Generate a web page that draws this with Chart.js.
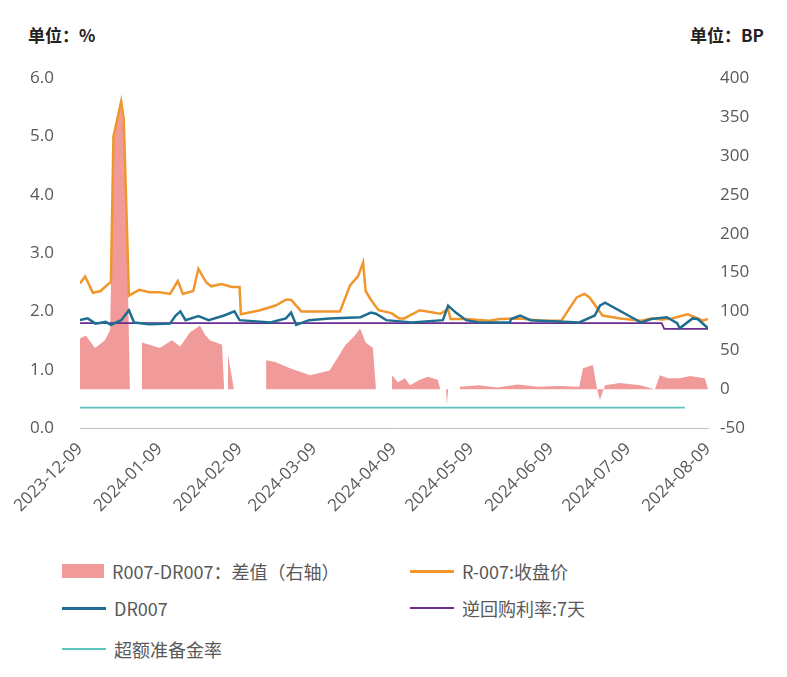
<!DOCTYPE html>
<html><head><meta charset="utf-8">
<script src="https://cdn.jsdelivr.net/npm/chart.js@4"></script>
<style>
body{margin:0;width:787px;height:677px;background:#fff;font-family:"Noto Sans CJK SC","Noto Sans",sans-serif;color:#404040;position:relative;overflow:hidden}
.u{position:absolute;top:22px;font-size:17px;font-weight:bold;color:#222}
#wrap{position:absolute;left:0;top:50px;width:787px;height:500px}
.lg{position:absolute;font-size:18px;color:#595959;display:flex;align-items:center}
.sw{display:inline-block;margin-right:8px}
</style></head><body>
<div class="u" style="left:28px">单位：%</div>
<div class="u" style="left:690px">单位：BP</div>
<div id="wrap"><canvas id="c" width="787" height="500"></canvas></div>
<div class="lg" style="left:62px;top:558px"><span class="sw" style="width:42px;height:14px;background:#f09a9a"></span>R007-DR007：差值（右轴）</div>
<div class="lg" style="left:410px;top:558px"><span class="sw" style="width:44px;height:3px;background:#f0962d"></span>R-007:收盘价</div>
<div class="lg" style="left:62px;top:595px"><span class="sw" style="width:44px;height:3px;background:#1f6e91"></span>DR007</div>
<div class="lg" style="left:410px;top:595px"><span class="sw" style="width:44px;height:2px;background:#6a2c91"></span>逆回购利率:7天</div>
<div class="lg" style="left:62px;top:636px"><span class="sw" style="width:44px;height:2px;background:#5cc6c0"></span>超额准备金率</div>
<script>
const tickDays=[0,31,62,91,122,152,183,213,244];
const tickLabels=["2023-12-09","2024-01-09","2024-02-09","2024-03-09","2024-04-09","2024-05-09","2024-06-09","2024-07-09","2024-08-09"];
// R007 (%), day offsets from 2023-12-09
const rDays=[0,2,5,8,11,12,13,16,17,19,23,27,31,35,38,40,44,46,49,51,55,59,60,62,62.5,70,76,80,82,86,93,101,105,108,110,111,113,116,118,121,124,126,132,140,143,144,150,159,163,171,179,187,193,196,198,203,210,218,222,226,230,236,238,242,244];
const rVals=[2.48,2.6,2.32,2.35,2.47,2.5,5.0,5.6,5.3,2.27,2.37,2.33,2.33,2.3,2.52,2.3,2.35,2.73,2.5,2.43,2.47,2.42,2.42,2.42,1.95,2.02,2.1,2.2,2.2,2.0,2.0,2.0,2.45,2.6,2.84,2.35,2.2,2.02,2.0,1.97,1.88,1.88,2.02,1.96,2.04,1.87,1.87,1.84,1.87,1.88,1.84,1.84,2.24,2.3,2.24,1.93,1.88,1.84,1.88,1.86,1.88,1.95,1.92,1.84,1.87];
const dDays=[0,3,6,10,12,16,19,21,27,35,37,39,41,46,50,56,60,62,74,80,82,84,89,97,109,113,115,119,129,141,143,146,150,155,167,167.5,171,175,194,200,202,204,218,222,228,232,233,238,240,244];
const dVals=[1.85,1.88,1.79,1.82,1.77,1.85,2.02,1.81,1.78,1.79,1.92,2.0,1.85,1.92,1.85,1.93,2.0,1.85,1.81,1.88,1.98,1.77,1.85,1.88,1.9,1.98,1.96,1.85,1.81,1.85,2.1,1.98,1.85,1.81,1.81,1.87,1.93,1.85,1.81,1.93,2.1,2.15,1.81,1.87,1.9,1.8,1.71,1.88,1.87,1.71];
const rrDays=[0,226,227,244];
const rrVals=[1.8,1.8,1.7,1.7];
const erDays=[0,235];
const erVals=[0.35,0.35];
// R007-DR007 spread (BP), null = gap
const sDays=[0,2.3,5.8,9.7,11.7,13.2,15.9,17.5,19.4,19.5,24,27,31,35.7,38.9,42.7,46.6,48.6,50.5,55.2,56,56.5,57.5,59.8,60,72.3,75.8,81.6,89.4,97,103,106.8,108.8,111,113.8,115,115.5,121.2,123.5,126.3,128.2,132,135.2,139,140,140.5,142.2,142.6,143,143.5,147.6,155,162,170,178,186,194,195.4,199.3,200.9,202,204,209.8,217.6,223.4,225.3,228.4,233,237,242.8,244];
const sVals=[65,69,53,63,76,332,370,319,0,null,60,57,53,63,55,73,82,70,63,57,0,null,44,0,null,37,35,27,18,24,56,69,78,60,53,0,null,18,9,14,5,12,16,12,0,null,0,-20,0,null,3,5,2,6,3,4,3,27,31,0,-14,5,8,5,0,18,14,14,17,14,0];
const pts=(d,v)=>d.map((x,i)=>({x:x,y:v[i]}));
new Chart(document.getElementById('c'),{
 data:{datasets:[
  {type:'line',data:pts(rDays,rVals),borderColor:'#f0962d',borderWidth:2.5,pointRadius:0,yAxisID:'y',order:1},
  {type:'line',data:pts(dDays,dVals),borderColor:'#1f6e91',borderWidth:2.5,pointRadius:0,yAxisID:'y',order:0},
  {type:'line',data:pts(rrDays,rrVals),borderColor:'#6a2c91',borderWidth:1.8,pointRadius:0,yAxisID:'y',order:2},
  {type:'line',data:pts(erDays,erVals),borderColor:'#5cc6c0',borderWidth:1.8,pointRadius:0,yAxisID:'y',order:3},
  {type:'line',data:pts(sDays,sVals),borderColor:'rgba(0,0,0,0)',borderWidth:0,backgroundColor:'#f09a9a',fill:'origin',pointRadius:0,yAxisID:'y1',spanGaps:false,order:4}
 ]},
 options:{responsive:false,animation:false,plugins:{legend:{display:false},tooltip:{enabled:false}},
  layout:{padding:{top:7,bottom:0}},
  scales:{
   x:{type:'linear',min:0,max:244,grid:{display:false,drawTicks:true},border:{color:'#bfbfbf'},
     afterBuildTicks:a=>{a.ticks=tickDays.map(v=>({value:v}));},
     afterFit:a=>{a.height=122;},
     ticks:{autoSkip:false,maxRotation:45,minRotation:45,color:'#595959',font:{size:17,family:'"Open Sans",sans-serif'},callback:(v)=>tickLabels[tickDays.indexOf(v)]}},
   y:{position:'left',min:0,max:6,grid:{display:false},border:{display:false},afterFit:a=>{a.width=80;},
     ticks:{stepSize:1,color:'#595959',font:{size:17,family:'"Open Sans",sans-serif'},padding:18,callback:v=>v.toFixed(1)}},
   y1:{position:'right',min:-50,max:400,grid:{display:false},border:{display:false},afterFit:a=>{a.width=79;},
     ticks:{stepSize:50,color:'#595959',font:{size:17,family:'"Open Sans",sans-serif'},padding:4}}
  }}
});
</script></body></html>
